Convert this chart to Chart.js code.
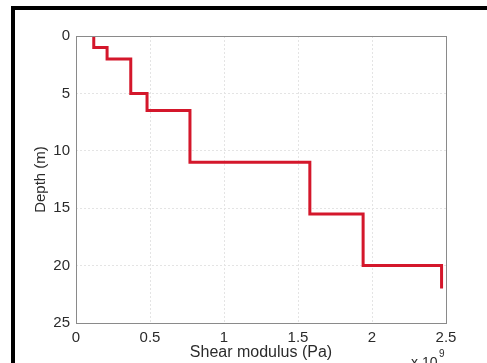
<!DOCTYPE html>
<html>
<head>
<meta charset="utf-8">
<script src="https://cdn.jsdelivr.net/npm/chart.js@4/dist/chart.umd.min.js"></script>
<style>
  html, body { margin: 0; padding: 0; background: #fff; }
  #wrap { position: relative; width: 487px; height: 363px; overflow: hidden; }
  #frame { position: absolute; left: 11px; top: 6px; width: 472px; height: 400px;
           border: 4px solid #000; border-bottom: none; }
  canvas { position: absolute; left: 0; top: 0; }
</style>
</head>
<body>
<div id="wrap">
  <div id="frame"></div>
  <canvas id="chart" width="487" height="363"></canvas>
</div>
<script>
// layer boundaries (m) and shear modulus per layer (x 1e9 Pa)
const layerTops = [0, 1, 2, 5, 6.5, 11, 15.5, 20];
const layerBottoms = [1, 2, 5, 6.5, 11, 15.5, 20, 22];
const shearModulus = [0.12, 0.21, 0.37, 0.48, 0.77, 1.58, 1.94, 2.47];
const xTicks = [0, 0.5, 1, 1.5, 2, 2.5];
const yTicks = [0, 5, 10, 15, 20, 25];

// step profile: each layer is a vertical segment, joined by horizontal ones
const points = [];
shearModulus.forEach((g, i) => {
  points.push({ x: g, y: layerTops[i] });
  points.push({ x: g, y: layerBottoms[i] });
});

const textColor = '#2b2b2b';
const gridColor = '#e4e4e4';

// box round the plot area, like matlab
const boxPlugin = {
  id: 'box',
  afterDraw(chart) {
    const { ctx, chartArea: a } = chart;
    ctx.save();
    ctx.strokeStyle = '#8a8a8a';
    ctx.lineWidth = 1;
    ctx.strokeRect(a.left + 0.5, a.top + 0.5, a.right - a.left, a.bottom - a.top);
    // exponent label under the x axis
    ctx.fillStyle = textColor;
    ctx.textBaseline = 'top';
    ctx.font = '14px "Liberation Sans", Arial, sans-serif';
    ctx.fillText('x 10', 411, 356);
    ctx.font = '10px "Liberation Sans", Arial, sans-serif';
    ctx.fillText('9', 439, 349);
    ctx.restore();
  }
};

new Chart(document.getElementById('chart'), {
  type: 'scatter',
  data: {
    datasets: [{
      data: points,
      showLine: true,
      borderColor: '#d4172b',
      borderWidth: 3,
      pointRadius: 0,
      fill: false
    }]
  },
  options: {
    responsive: false,
    animation: false,
    layout: { padding: { top: 36, right: 41, left: 0, bottom: 0 } },
    plugins: { legend: { display: false }, tooltip: { enabled: false } },
    scales: {
      x: {
        type: 'linear',
        min: 0,
        max: 2.5,
        afterBuildTicks: (s) => { s.ticks = xTicks.map(v => ({ value: v })); },
        afterFit: (s) => { s.height = 40; },
        grid: { color: gridColor, drawTicks: false, borderDash: [2, 2] },
        border: { display: false, dash: [2, 2] },
        ticks: {
          color: textColor,
          padding: 6,
          maxRotation: 0,
          font: { family: '"Liberation Sans", Arial, sans-serif', size: 15 },
          callback: (v) => String(v)
        },
        title: {
          display: true,
          text: 'Shear modulus (Pa)',
          color: textColor,
          padding: { top: 0, bottom: 1 },
          font: { family: '"Liberation Sans", Arial, sans-serif', size: 16 }
        }
      },
      y: {
        type: 'linear',
        reverse: true,
        min: 0,
        max: 25,
        afterBuildTicks: (s) => { s.ticks = yTicks.map(v => ({ value: v })); },
        afterFit: (s) => { s.width = 76; },
        grid: { color: gridColor, drawTicks: false },
        border: { display: false, dash: [2, 2] },
        ticks: {
          color: textColor,
          padding: 6,
          font: { family: '"Liberation Sans", Arial, sans-serif', size: 15 }
        },
        title: {
          display: true,
          text: 'Depth (m)',
          color: textColor,
          padding: { top: 32, bottom: 0 },
          font: { family: '"Liberation Sans", Arial, sans-serif', size: 15 }
        }
      }
    }
  },
  plugins: [boxPlugin]
});
</script>
</body>
</html>
